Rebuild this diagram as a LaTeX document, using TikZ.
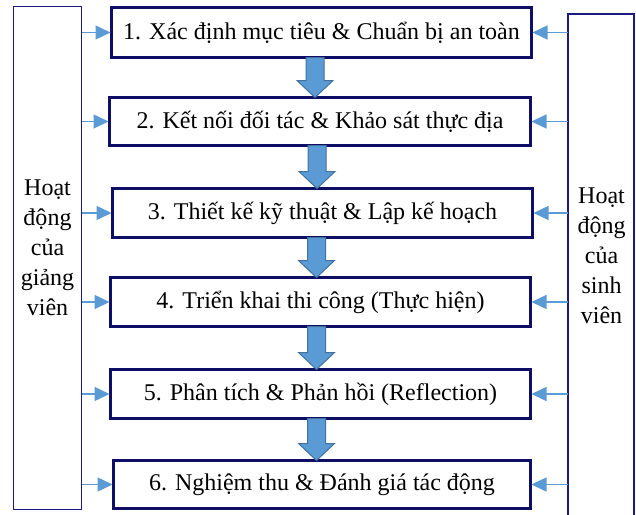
\documentclass[tikz,border=0pt]{standalone}
\usepackage{fontspec}
\setmainfont{Liberation Serif}
\usetikzlibrary{arrows.meta,calc}
\definecolor{navy}{HTML}{0E0E66}
\definecolor{sidenavy}{HTML}{1A1A80}
\definecolor{lblue}{HTML}{5B9BD5}
\definecolor{dblue}{HTML}{41719C}
\tikzset{
  x=1pt,y=-1pt,
  stepbox/.style={draw=navy,line width=3pt,rectangle,inner sep=0pt,outer sep=0pt,
    font=\fontsize{24}{29}\selectfont,fill=white},
  sidebox/.style={draw=sidenavy,line width=1.5pt,rectangle,inner sep=0pt,outer sep=0pt},
  sidetext/.style={align=center,font=\fontsize{24}{30}\selectfont,inner sep=0pt},
  sidearrow/.style={draw=lblue,line width=1.5pt,-{Triangle[length=15pt,width=14pt]},shorten >=1pt},
  blockarrow/.style={fill=lblue,draw=dblue,line width=1pt,line join=miter}
}
\newcommand{\blockarr}[3]{% x, from node, to node
  \draw[blockarrow] let \p1=(#2.south), \p2=(#3.north) in
    (#1-9,\y1) -- (#1+9,\y1) -- (#1+9,\y2+17) -- (#1+18,\y2+17) -- (#1,\y2)
    -- (#1-18,\y2+17) -- (#1-9,\y2+17) -- cycle;}
\begin{document}
\begin{tikzpicture}
\useasboundingbox (0,0) rectangle (636,514);
\clip (0,0) rectangle (636,514);
\fill[white] (0,0) rectangle (636,514);
% side boxes
\node[sidebox,minimum width=68pt,minimum height=503pt] (L) at (47.5,258) {};
\node[sidebox,minimum width=66pt,minimum height=516pt] (R) at (601,272) {};
\node[sidetext] (lt) at (47.5,248) {Hoạt\\động\\của\\giảng\\viên};
\node[sidetext] (rt) at (601.5,256) {Hoạt\\động\\của\\sinh\\viên};
% step boxes
\node[stepbox,minimum width=420pt,minimum height=50pt] (s1) at (321.5,32.5) {1. Xác định mục tiêu \& Chuẩn bị an toàn};
\node[stepbox,minimum width=421pt,minimum height=48pt] (s2) at (320,121.5) {2. Kết nối đối tác \& Khảo sát thực địa};
\node[stepbox,minimum width=420pt,minimum height=49pt] (s3) at (322.5,213) {3. Thiết kế kỹ thuật \& Lập kế hoạch};
\node[stepbox,minimum width=420pt,minimum height=49pt] (s4) at (320.5,302) {4. Triển khai thi công (Thực hiện)};
\node[stepbox,minimum width=420pt,minimum height=49pt] (s5) at (320.5,394) {5. Phân tích \& Phản hồi (Reflection)};
\node[stepbox,minimum width=417pt,minimum height=48pt] (s6) at (322,484.5) {6. Nghiệm thu \& Đánh giá tác động};
% block arrows
\blockarr{315}{s1}{s2}
\blockarr{317}{s2}{s3}
\blockarr{316.5}{s3}{s4}
\blockarr{316.5}{s4}{s5}
\blockarr{316.5}{s5}{s6}
% side arrows
\foreach \s in {s1,s2,s3,s4,s5,s6}{
  \draw[sidearrow] (L.east |- \s.west) -- (\s.west);
  \draw[sidearrow] (R.west |- \s.east) -- (\s.east);
}
\end{tikzpicture}
\end{document}
